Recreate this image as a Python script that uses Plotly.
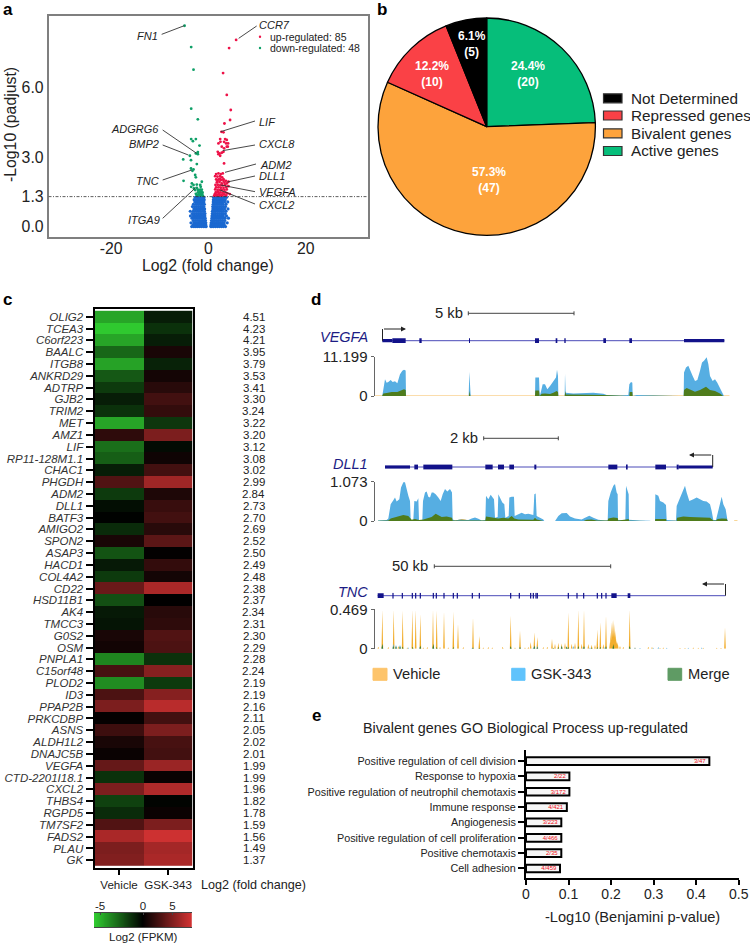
import numpy as np
import plotly.graph_objects as go

W, H = 750, 944
FONT = "Liberation Sans"

def fx(p): return p / W
def fy(p): return 1 - p / H
def dom_x(a, b): return [fx(a), fx(b)]
def dom_y(top, bottom): return [fy(bottom), fy(top)]

# ---------- panel a: volcano ----------
up_points = [(5.68,8.05),(4.24,7.7),(3.0,6.62),(3.76,5.68),(4.58,5.03),(4.44,4.6),(3.28,4.45),(2.67,4.09),(3.08,4.07),
 (2.4,3.78),(2.46,3.66),(2.05,3.59),(3.42,3.78),(3.76,3.74),(3.2,3.66),(3.62,3.59),(4.03,3.59),(3.76,3.45),(2.73,3.45),
 (3.2,3.38),(3.97,3.45),(1.91,3.23),(2.26,3.16),(2.73,3.19),(3.08,3.23),(2.4,3.06),(2.05,3.13),(3.2,2.73),
 (1.57,2.27),(2.05,2.3),(2.53,2.27),(2.94,2.3),(1.37,2.18),(1.85,2.16),(2.39,2.18),(2.8,2.13),(1.57,2.04),(2.05,2.04),
 (2.53,2.01),(3.08,2.05),(3.56,1.98),(4.1,1.94),(1.71,1.91),(2.26,1.93),(2.73,1.87),(3.28,1.9),(3.76,1.87),(1.44,1.8),
 (1.91,1.81),(2.39,1.78),(2.87,1.78),(3.42,1.8),(1.57,1.7),(2.05,1.7),(2.53,1.68),(3.08,1.67),(3.62,1.7),(4.1,1.75),
 (1.37,1.61),(1.85,1.59),(2.26,1.58),(2.73,1.58),(3.28,1.58),(3.76,1.61),(1.5,1.49),(1.98,1.49),(2.46,1.48),(2.94,1.47),
 (3.49,1.48),(1.3,1.41),(1.71,1.39),(2.19,1.41),(2.67,1.38),(3.21,1.39),(3.9,1.44),(4.38,1.41),(1.44,1.35),(1.85,1.34),
 (2.32,1.34),(2.8,1.34),(3.62,1.35),(1.16,1.34),(3.08,1.98),(1.85,1.98),(2.39,2.07)]
down_points = [(-4.92,8.66),(-3.56,7.74),(-3.08,6.77),(-3.56,5.09),(-2.19,4.63),(-3.56,3.78),(-2.6,3.78),(-3.2,3.69),
 (-1.85,3.5),(-2.19,3.22),(-2.19,3.13),(-2.6,3.16),(-3.83,3.06),(-5.2,2.9),(-3.6,2.87),(-2.4,2.7),(-3.6,2.51),(-3.08,2.47),
 (-3.3,2.41),(-2.74,2.23),(-2.6,2.13),(-5.13,1.98),(-3.42,1.87),(-3.08,1.8),(-2.4,1.82),(-1.7,1.8),(-1.37,1.94),(-3.56,1.72),
 (-2.4,1.68),(-2.74,1.58),(-2.05,1.58),(-1.7,1.6),(-1.37,1.6),(-2.19,1.48),(-1.85,1.5),(-1.5,1.5),(-1.23,1.48),(-2,1.41),
 (-1.64,1.41),(-1.3,1.42),(-2.4,1.36),(-1.85,1.35),(-1.5,1.36),(-2.19,1.6),(-1.6,1.72),(-3.0,1.65),(-2.6,1.42),(-1.15,1.34)]
blue_rows = [
 (1.27,[-2.7,-2.3,-1.95,-1.6,-1.25,-0.95,1.05,1.4,1.75,2.1,2.45,2.8,3.2,3.7]),
 (1.17,[-2.95,-2.5,-2.15,-1.8,-1.42,-1.05,-0.88,1.0,1.3,1.65,2.0,2.35,2.7,3.05,3.45]),
 (1.07,[-2.8,-2.4,-2.05,-1.7,-1.3,-0.95,0.98,1.35,1.72,2.1,2.5,2.85,3.3,3.95]),
 (0.97,[-3.1,-2.6,-2.2,-1.85,-1.5,-1.15,-0.85,0.95,1.25,1.6,1.95,2.3,2.65,3.0,3.6]),
 (0.87,[-3.3,-2.85,-2.45,-2.05,-1.65,-1.3,-0.95,0.88,1.2,1.55,1.9,2.3,2.7,3.1,3.5]),
 (0.77,[-3.0,-2.6,-2.2,-1.8,-1.45,-1.1,-0.8,0.9,1.25,1.65,2.05,2.45,2.85,3.3,4.0]),
 (0.67,[-3.75,-3.15,-2.75,-2.35,-1.95,-1.6,-1.2,-0.85,0.8,1.15,1.5,1.9,2.3,2.7,3.1,3.6]),
 (0.57,[-3.35,-2.95,-2.5,-2.1,-1.7,-1.35,-0.95,-0.72,0.78,1.1,1.45,1.85,2.25,2.65,3.0,3.45]),
 (0.47,[-3.7,-3.1,-2.7,-2.3,-1.9,-1.5,-1.1,-0.75,0.72,1.05,1.4,1.8,2.2,2.6,3.05,3.7]),
 (0.37,[-3.4,-3.0,-2.55,-2.15,-1.75,-1.35,-1.0,-0.68,0.7,1.0,1.35,1.75,2.15,2.5,2.95,3.4,4.1]),
 (0.27,[-3.15,-2.75,-2.35,-1.95,-1.55,-1.2,-0.85,-0.62,0.62,0.95,1.3,1.7,2.1,2.5,2.9,3.35]),
 (0.17,[-3.6,-3.0,-2.6,-2.2,-1.8,-1.4,-1.0,-0.7,-0.55,0.55,0.85,1.2,1.6,2.0,2.4,2.8,3.2,3.85]),
 (0.08,[-3.2,-2.8,-2.4,-2.0,-1.6,-1.2,-0.85,-0.55,0.5,0.8,1.15,1.55,1.95,2.35,2.75,3.25]),
 (0.01,[-3.45,-3.0,-2.6,-2.2,-1.8,-1.4,-1.0,-0.7,-0.48,0.48,0.7,1.05,1.45,1.85,2.25,2.65,3.05,3.5]),
 (0.72,[-2.0,-1.0,1.5,2.2]),(0.42,[-2.1,-1.3,1.2,2.0]),(0.22,[-1.7,-0.95,1.1,1.9]),
]
pv_line = 1.3

# ---------- panel b: pie ----------
pie_labels = ["Active genes", "Bivalent genes", "Repressed genes", "Not Determined"]
pie_counts = [20, 47, 10, 5]
pie_pct = ["24.4%", "57.3%", "12.2%", "6.1%"]
pie_colors = ["#06BE7A", "#FDA33C", "#FA4146", "#000000"]

# ---------- panel c: heatmap ----------
genes = ["OLIG2","TCEA3","C6orf223","BAALC","ITGB8","ANKRD29","ADTRP","GJB2","TRIM2","MET","AMZ1","LIF","RP11-128M1.1",
 "CHAC1","PHGDH","ADM2","DLL1","BATF3","AMIGO2","SPON2","ASAP3","HACD1","COL4A2","CD22","HSD11B1","AK4","TMCC3","G0S2",
 "OSM","PNPLA1","C15orf48","PLOD2","ID3","PPAP2B","PRKCDBP","ASNS","ALDH1L2","DNAJC5B","VEGFA","CTD-2201I18.1","CXCL2",
 "THBS4","RGPD5","TM7SF2","FADS2","PLAU","GK"]
vehicle_fpkm = [-4.6,-5.6,-4.6,-2.85,-4.5,-2.45,-1.6,-0.8,-1.35,-4.6,1.8,-3.1,-2.6,-0.8,3.2,-1.6,-0.4,-0.05,-1.2,1.0,-2.3,
 -0.7,-1.6,4.2,-2.2,-0.7,-0.55,1.0,0.7,-3.7,2.8,-3.9,3.0,4.9,0.2,2.4,1.0,0.4,4.0,-1.35,4.9,-1.8,-1.2,3.2,6.7,4.9,5.1]
gsk_fpkm = [-0.8,-1.35,-0.8,1.0,-0.95,0.8,1.6,2.6,2.0,-1.5,4.9,-0.3,0.6,2.6,6.3,1.2,2.2,2.6,1.6,3.6,0.1,2.0,0.8,6.7,0.05,
 1.6,1.8,3.2,3.0,-1.35,5.3,-1.6,5.3,7.3,2.6,4.9,2.8,2.6,6.1,0.4,6.9,-0.1,0.4,4.9,8.1,6.5,6.7]
fold_change = ["4.51","4.23","4.21","3.95","3.79","3.53","3.41","3.30","3.24","3.22","3.20","3.12","3.08","3.02","2.99",
 "2.84","2.73","2.70","2.69","2.52","2.50","2.49","2.48","2.38","2.37","2.34","2.31","2.30","2.29","2.28","2.24","2.19",
 "2.19","2.16","2.11","2.05","2.02","2.01","1.99","1.99","1.96","1.82","1.78","1.59","1.56","1.49","1.37"]
conditions = ["Vehicle", "GSK-343"]
ZMIN, ZMAX = -5.7, 8.3
heat_scale = [[0, "rgb(48,205,48)"], [-ZMIN / (ZMAX - ZMIN), "rgb(0,0,0)"], [1, "rgb(210,50,50)"]]

# ---------- panel d: tracks (x = track position, h = signal height as read, full scale = h_full) ----------
vegfa_gsk = [(187,2),(190,25),(195,50),(200,40),(205,42),(212,48),(218,42),(225,44),(232,38),(240,65),(247,75),(252,78),(257,76),(258,0),
 (446,0),(448,72),(450,30),(452,0),(645,0),(646,55),(657,55),(659,0),(662,10),(668,35),(675,35),(682,20),(690,30),(700,45),(708,55),(711,78),(714,60),(715,0),
 (734,0),(735,68),(737,10),(760,8),(800,9),(820,10),(850,7),(860,3),(900,2),(925,3),(928,35),(933,42),(937,40),(938,0),(950,3),(1000,2),(1050,3),(1085,1),(1091,0),
 (1092,70),(1098,85),(1105,90),(1110,80),(1118,60),(1125,45),(1132,48),(1140,75),(1146,100),(1152,105),(1160,115),(1165,95),(1170,60),(1178,45),(1185,50),(1192,40),(1200,25),(1208,10),(1212,0)]
vegfa_merge = [(187,2),(190,8),(200,9),(215,12),(232,12),(245,18),(252,20),(257,18),(258,0),(447,0),(449,15),(451,0),(645,0),(646,17),(657,17),(659,0),
 (665,7),(675,8),(690,6),(700,10),(710,15),(714,12),(715,0),(734,0),(736,15),(738,5),(760,4),(800,4),(850,3),(900,1),(928,0),(929,12),(937,12),(938,0),(1000,1),(1091,0),
 (1092,18),(1100,24),(1110,20),(1125,13),(1140,18),(1150,24),(1158,28),(1170,18),(1185,15),(1200,8),(1210,0)]
vegfa_vehicle = [(165,0),(166,1.5),(1228,1.5),(1229,0)]
dll1_gsk = [(174,2),(190,2),(200,3),(205,8),(212,50),(220,62),(225,70),(230,58),(238,65),(243,100),(250,115),(255,115),(260,90),(265,75),(270,60),(272,3),(280,3),
 (283,60),(290,58),(295,68),(297,3),(307,3),(309,60),(315,85),(320,88),(325,72),(330,70),(335,85),(340,85),(347,80),(355,70),(362,60),(368,80),(375,95),(382,88),(390,95),(396,85),(398,5),
 (406,2),(420,5),(430,4),(445,3),(455,8),(465,11),(475,7),(485,2),(496,3),(498,75),(505,65),(512,78),(518,70),(522,65),(525,10),(533,12),(535,80),(540,70),(547,55),(553,50),(556,10),
 (566,15),(568,70),(575,72),(582,72),(584,15),(595,20),(605,25),(615,20),(625,22),(640,18),(643,80),(647,82),(650,15),(660,10),(670,5),(673,0),
 (705,0),(715,15),(725,23),(740,24),(750,14),(765,8),(785,5),(795,10),(808,16),(820,10),(835,4),(855,2),(863,2),(865,60),(872,85),(880,105),(885,110),(890,85),(893,80),(894,3),
 (916,3),(918,105),(922,90),(926,80),(927,4),(940,4),(960,2),(990,1),(992,0),(1005,0),(1006,80),(1015,75),(1020,60),(1030,55),(1038,48),(1040,3),(1068,2),
 (1070,45),(1080,70),(1088,90),(1095,105),(1100,85),(1108,60),(1120,65),(1130,70),(1140,65),(1150,60),(1160,58),(1170,50),(1175,30),(1180,3),(1188,3),(1195,30),(1205,72),(1210,50),(1217,35),(1222,5),(1224,0)]
dll1_merge = [(174,1),(205,2),(212,8),(225,12),(238,15),(250,18),(265,15),(270,8),(275,4),(285,6),(297,3),(310,5),(325,8),(335,12),(347,22),(355,18),(365,12),(380,14),(396,10),(398,2),
 (450,1),(496,2),(498,14),(510,12),(522,9),(535,8),(550,10),(565,8),(575,15),(583,8),(595,5),(620,4),(640,4),(645,10),(650,5),(672,0),(790,0),(800,4),(815,5),(830,2),(863,2),(865,8),
 (880,11),(893,9),(895,2),(918,5),(926,6),(927,1),(1005,0),(1006,6),(1038,6),(1040,0),(1070,0),(1071,10),(1090,14),(1110,12),(1140,11),(1170,10),(1180,2),(1188,2),(1193,6),(1205,8),(1220,7),(1223,0)]
dll1_vehicle = [(400,0),(405,1),(415,4),(425,6),(435,5),(445,1),(450,0),(1040,0),(1041,2),(1067,2),(1068,0),(1242,0),(1243,1.5),(1252,1.5),(1253,0)]

tnc_vehicle_x = [187,221,248,277,287,301,339,350,372,400,414,459,478,572,600,632,643,652,696,745,775,792,832,841,858,872,875,878,881,884,887,890,929,1215,
 175,205,235,262,310,322,360,385,430,490,505,517,548,585,615,625,670,682,705,715,725,735,755,765,785,805,815,825,850,870,893,900,910,945,985,996,1020,1030,1080,1095,1120,1135,1150,1190,1203]
tnc_vehicle_h = [118,118,115,118,118,105,118,115,112,112,75,95,38,100,55,20,50,35,30,110,118,118,58,80,100,50,80,85,88,75,55,25,118,65,
 6,5,8,4,4,5,5,4,5,4,5,4,6,4,4,5,5,6,15,18,16,18,15,18,15,14,12,12,14,20,20,8,6,4,6,5,3,4,3,3,4,3,3,3,3]
tnc_gsk_x = [187,220,228,240,265,300,340,457,572,600,640,643,652,725,740,760,790,810,855,880,930,945,960,1000,1015,1040,1105,1145]
tnc_gsk_h = [12,15,12,12,4,6,10,4,6,5,3,10,8,8,8,8,6,4,5,8,4,4,3,3,5,3,3,4]
tnc_merge_x = [187,220,228,240,248,278,301,340,350,400,459,478,572,600,643,652,700,715,725,740,745,775,792,815,832,841,858,880,929]
tnc_merge_h = [15,8,8,8,7,6,10,15,5,5,4,3,8,5,9,5,3,5,8,6,5,8,8,4,5,6,8,14,8]

vegfa_thick = [(217,257),(298,305),(447,450),(645,657),(707,712),(733,737),(850,858),(928,936)]
vegfa_mid = [(187,217),(1092,1213)]
vegfa_span = (187,1213)
dll1_thick = [(283,294),(310,397),(496,518),(534,552),(568,582),(643,649),(865,892),(918,923),(1006,1038),(1070,1076)]
dll1_mid = [(195,270),(1076,1178)]
dll1_span = (195,1178)
tnc_thick = [(173,191),(874,890),(923,931)]
tnc_thin = [219,247,277,287,301,340,349,372,400,412,457,478,572,598,632,640,648,652,745,771,791,832,845,858]
tnc_span = (173,1216)

# ---------- panel e: bars ----------
go_terms = ["Positive regulation of cell division","Response to hypoxia","Positive regulation of neutrophil chemotaxis","Immune response",
 "Angiogenesis","Positive regulation of cell proliferation","Positive chemotaxis","Cell adhesion"]
go_values = [0.431,0.102,0.102,0.096,0.083,0.083,0.083,0.08]
go_counts = ["3/47","2/22","3/172","4/421","3/223","4/466","2/35","4/459"]

fig = go.Figure()
ann, shp = [], []

def text(x, y, s, size, color="#222222", anchor="center", bold=False, italic=False, angle=0):
    if bold: s = "<b>%s</b>" % s
    if italic: s = "<i>%s</i>" % s
    ann.append(dict(x=fx(x), y=fy(y), xref="paper", yref="paper", text=s, showarrow=False, xanchor=anchor, yanchor="middle",
                    font=dict(size=size, color=color, family=FONT), textangle=angle))

def seg(x0, y0, x1, y1, color="#222222", width=1.0):
    shp.append(dict(type="line", xref="paper", yref="paper", x0=fx(x0), y0=fy(y0), x1=fx(x1), y1=fy(y1), line=dict(color=color, width=width)))

def rect(x0, y0, x1, y1, fill, line=None, lw=1.0):
    shp.append(dict(type="rect", xref="paper", yref="paper", x0=fx(x0), y0=fy(y0), x1=fx(x1), y1=fy(y1), fillcolor=fill,
                    line=dict(color=line or fill, width=lw)))

# a traces
bx = [v for y, xs in blue_rows for v in xs]
by = [y for y, xs in blue_rows for v in xs]
fig.add_trace(go.Scatter(x=bx, y=by, mode="markers", marker=dict(color="#1A68D0", size=3.2), name="not significant", showlegend=False, xaxis="x", yaxis="y"))
fig.add_trace(go.Scatter(x=[p[0] for p in up_points], y=[p[1] for p in up_points], mode="markers", marker=dict(color="#EE1248", size=2.8), showlegend=False, name="up-regulated", xaxis="x", yaxis="y"))
fig.add_trace(go.Scatter(x=[p[0] for p in down_points], y=[p[1] for p in down_points], mode="markers", marker=dict(color="#0FA068", size=2.8), showlegend=False, name="down-regulated", xaxis="x", yaxis="y"))
shp.append(dict(type="line", xref="x", yref="y", x0=-32.9, x1=32.8, y0=pv_line, y1=pv_line, line=dict(color="#333333", width=0.8, dash="3px,1.5px,1px,1.5px")))
for (x, y, c) in [(260, 36.7, "#EE1248"), (260, 48, "#0FA068")]:
    shp.append(dict(type="circle", xref="paper", yref="paper", x0=fx(x-1.2), x1=fx(x+1.2), y0=fy(y+1.2), y1=fy(y-1.2), fillcolor=c, line=dict(width=0)))
text(267.5, 36.7, "up-regulated: %d" % len(up_points), 10.5, anchor="left")
text(267.5, 48, "down-regulated: %d" % len(down_points), 10.5, anchor="left")
text(208, 265.5, "Log2 (fold change)", 15.8)
text(10, 125, "-Log10 (padjust)", 15.8, angle=-90)
labels_l = [("FN1",160,35.7,(485,103),(553,77)),("ADGRG6",161,129,(488,390),(590,460)),("BMP2",161,144.3,(488,435),(565,465)),
            ("TNC",161,181,(488,540),(575,510)),("ITGA9",161.5,220,(488,655),(587,563))]
labels_r = [("CCR7",257.3,25,(716,115),(770,78)),("LIF",257.3,121.7,(662,395),(765,363)),("CXCL8",257.3,144.3,(668,452),(765,435)),
            ("ADM2",258.3,165,(675,517),(768,492)),("DLL1",257.3,176,(682,546),(765,528)),("VEGFA",257.3,191.7,(662,555),(765,575)),("CXCL2",257.3,204.7,(660,570),(765,612))]
for name, x, y, a, b in labels_l:
    text(x, y, name, 11, anchor="right", italic=True)
    seg(a[0]/3, a[1]/3, b[0]/3, b[1]/3, "#333333", 0.9)
for name, x, y, a, b in labels_r:
    text(x, y, name, 11, anchor="left", italic=True)
    seg(a[0]/3, a[1]/3, b[0]/3, b[1]/3, "#333333", 0.9)

# b
fig.add_trace(go.Pie(labels=pie_labels, values=pie_counts, sort=False, direction="clockwise", rotation=0, textinfo="none", showlegend=False,
                     marker=dict(colors=pie_colors, line=dict(color="#000000", width=1.3)), domain=dict(x=dom_x(378, 595.4), y=dom_y(18, 235.4))))
for lab, p, c, x, y in zip(pie_labels, pie_pct, pie_counts, [527.7, 488.5, 431.7, 472], [74, 180, 74, 44]):
    text(x, y, "%s<br>(%d)" % (p, c), 12, color="#FFFFFF", bold=True)
for i, k in enumerate([3, 2, 1, 0]):
    yy = [98.3, 115.5, 133.3, 151][i]
    rect(603.5, yy-4.5, 622, yy+4.5, pie_colors[k], "#333333", 1.2)
    text(628.5, yy-0.3, pie_labels[k], 15.3, anchor="left")

# c
fig.add_trace(go.Heatmap(z=[[a, b] for a, b in zip(vehicle_fpkm, gsk_fpkm)], x=conditions, y=genes, zmin=ZMIN, zmax=ZMAX, colorscale=heat_scale, showscale=False, xaxis="x2", yaxis="y2"))
for g, f in zip(genes, fold_change):
    ann.append(dict(x=fx(253.5), y=g, xref="paper", yref="y2", text=f, showarrow=False, font=dict(size=11.5, color="#222222", family=FONT)))
text(253, 885.3, "Log2 (fold change)", 12.6)
text(143, 937, "Log2 (FPKM)", 11.5)
# colour ramp: position -1..1, black at centre, values stretched differently each side
ramp_pos = np.linspace(-1, 1, 201)
ramp_val = np.where(ramp_pos < 0, ramp_pos * -ZMIN, ramp_pos * ZMAX)
fig.add_trace(go.Heatmap(z=[ramp_val.tolist()], x=ramp_pos.tolist(), y=[0], zmin=ZMIN, zmax=ZMAX, colorscale=heat_scale, showscale=False, xaxis="x3", yaxis="y3"))

# d
ORANGE, BLUE, GREEN = "#F7BC5A", "#56AEE2", "#4F7C1C"
def area(pts, color, xa, ya, full, hfull, name):
    fig.add_trace(go.Scatter(x=[p[0] for p in pts], y=[p[1] / hfull * full for p in pts], mode="lines", fill="tozeroy", fillcolor=color,
                             line=dict(width=0, color=color), showlegend=False, name=name, xaxis=xa, yaxis=ya))
def spikes(xs, hs, color, xa, ya, full, hfull, name, w=2.5):
    xx, yy = [], []
    for x, h in sorted(zip(xs, hs)):
        xx += [x - w, x, x + w, None]
        yy += [0, h / hfull * full, 0, None]
    fig.add_trace(go.Scatter(x=xx, y=yy, mode="lines", fill="toself", fillcolor=color, line=dict(width=0, color=color), showlegend=False, name=name, xaxis=xa, yaxis=ya))
def gene(span, thick, mid, thin, xa, ya):
    fig.add_trace(go.Scatter(x=list(span), y=[0, 0], mode="lines", line=dict(color="#4A4AB8", width=1), showlegend=False, xaxis=xa, yaxis=ya, hoverinfo="skip"))
    for blocks, lw in [(mid, 3.2), (thick, 4.8)]:
        xx, yy = [], []
        for a, b in blocks:
            xx += [a, b, None]; yy += [0, 0, None]
        if xx:
            fig.add_trace(go.Scatter(x=xx, y=yy, mode="lines", line=dict(color="#12128A", width=lw), showlegend=False, xaxis=xa, yaxis=ya, hoverinfo="skip"))
    if thin:
        xx, yy = [], []
        for a in thin:
            xx += [a, a, None]; yy += [-1, 1, None]
        fig.add_trace(go.Scatter(x=xx, y=yy, mode="lines", line=dict(color="#12128A", width=1.2), showlegend=False, xaxis=xa, yaxis=ya, hoverinfo="skip"))

area(vegfa_vehicle, ORANGE, "x5", "y5", 11.199, 117, "Vehicle")
area(vegfa_gsk, BLUE, "x5", "y5", 11.199, 117, "GSK-343")
area(vegfa_merge, GREEN, "x5", "y5", 11.199, 117, "Merge")
gene(vegfa_span, vegfa_thick, vegfa_mid, [], "x5", "y6")
area(dll1_vehicle, "#F2AE2E", "x6", "y7", 1.073, 117, "Vehicle")
area(dll1_gsk, BLUE, "x6", "y7", 1.073, 117, "GSK-343")
area(dll1_merge, GREEN, "x6", "y7", 1.073, 117, "Merge")
gene(dll1_span, dll1_thick, dll1_mid, [], "x6", "y8")
spikes(tnc_vehicle_x, tnc_vehicle_h, "#F2AE2E", "x7", "y9", 0.469, 119, "Vehicle")
spikes(tnc_gsk_x, tnc_gsk_h, BLUE, "x7", "y9", 0.469, 119, "GSK-343")
spikes(tnc_merge_x, tnc_merge_h, "#3F7A20", "x7", "y9", 0.469, 119, "Merge")
gene(tnc_span, tnc_thick, [], tnc_thin, "x7", "y10")

NAVY = "#1C1C84"
for name, y in [("VEGFA", 336.7), ("DLL1", 463.7), ("TNC", 591.7)]:
    text(369.5, y, name, 14.5, color=NAVY, anchor="right", italic=True)
for lab, a, b, y, tx in [("5 kb", 468.3, 574, 313.3, 465), ("2 kb", 483.7, 558.3, 438.3, 479.5), ("50 kb", 434.3, 610.7, 566.3, 430)]:
    seg(a, y, b, y, "#444444", 1)
    seg(a, y-2, a, y+2, "#444444", 1)
    seg(b, y-2, b, y+2, "#444444", 1)
    text(tx, y, lab, 14.8, anchor="right")
def tss(xc, y0, y1, xh):
    seg(xc, y0, xc, y1, "#222222", 1)
    ann.append(dict(x=fx(xh), y=fy(y1), ax=xc - xh, ay=0, xref="paper", yref="paper", axref="pixel", ayref="pixel", text="", showarrow=True,
                    arrowhead=2, arrowsize=1, arrowwidth=1, arrowcolor="#222222"))
tss(382.5, 340.7, 329, 406)
tss(712.7, 467, 455, 689)
tss(725.5, 595.7, 584, 702)
for lab, c, a, b in [("Vehicle", "#FDC46B", 373, 387), ("GSK-343", "#60C3FC", 511.7, 525), ("Merge", "#5F9B64", 668, 681.7)]:
    rect(a, 668.3, b, 680.3, c)
    text(b + 4.2, 674.3, lab, 14.7, anchor="left")

# e
fig.add_trace(go.Bar(y=go_terms, x=go_values, orientation="h", text=go_counts, textposition="inside", insidetextanchor="end", textangle=0, constraintext="none",
                     textfont=dict(size=6, color="#F01020", family=FONT), marker=dict(color="#F6F6F6", line=dict(color="#000000", width=2)), width=0.5, showlegend=False, xaxis="x4", yaxis="y4"))
text(360.7, 728, "Bivalent genes GO Biological Process up-regulated", 14.3, anchor="left")
text(632, 917, "-Log10 (Benjamini p-value)", 14.6)

for s, x, y in [("a", 8, 9), ("b", 382, 9), ("c", 7, 299), ("d", 316, 299), ("e", 316, 715)]:
    text(x, y, s, 17, color="#000000", bold=True)

black = "#000000"
tf = lambda s, c="#222222": dict(size=s, color=c, family=FONT)
layout = dict(
    width=W, height=H, margin=dict(l=0, r=0, t=0, b=0, autoexpand=False), autosize=False, paper_bgcolor="white", plot_bgcolor="white", showlegend=False,
    annotations=ann, shapes=shp, font=dict(family=FONT),
    xaxis=dict(domain=dom_x(48.5, 368), range=[-32.9, 32.8], tickvals=[-20, 0, 20], ticktext=["-20", "0", "20"], showgrid=False, zeroline=False, showline=True, mirror=True,
               linecolor="#7F7F7F", linewidth=1.5, ticks="", tickfont=tf(15.8), anchor="y", ticklabelstandoff=-4),
    yaxis=dict(domain=dom_y(16, 237), range=[-0.44, 9.08], tickvals=[0, 1.3, 3, 6], ticktext=["0.0", "1.3", "3.0", "6.0"], showgrid=False, zeroline=False, showline=True, mirror=True,
               linecolor="#7F7F7F", linewidth=1.5, ticks="", tickfont=tf(15.8), anchor="x"),
    xaxis2=dict(domain=dom_x(94.5, 192.5), anchor="y2", showline=True, mirror=True, linecolor=black, linewidth=2, ticks="outside", ticklen=5, tickwidth=2, tickcolor=black,
                tickfont=tf(11.6), showgrid=False, zeroline=False),
    yaxis2=dict(domain=dom_y(308.7, 868.3), anchor="x2", autorange="reversed", tickmode="array", tickvals=genes, ticktext=["<i>%s</i>" % g for g in genes],
                showline=True, mirror=True, linecolor=black, linewidth=2, ticks="outside", ticklen=7, tickwidth=2, tickcolor=black, tickfont=tf(11.5, "#333333"),
                showgrid=False, zeroline=False),
    xaxis3=dict(domain=dom_x(94, 192), anchor="y3", side="top", range=[-1, 1], tickvals=[5 / ZMIN, 0, 5 / ZMAX], ticktext=["-5", "0", "5"], ticks="inside", ticklen=2,
                tickcolor="#444444", showline=True, mirror=True, linecolor="#444444", linewidth=1, tickfont=tf(11.5), showgrid=False, zeroline=False, ticklabelstandoff=-3),
    yaxis3=dict(domain=dom_y(913, 927), anchor="x3", visible=False, range=[-0.5, 0.5]),
    xaxis4=dict(domain=dom_x(526, 738.7), anchor="y4", range=[0, 0.5], tickvals=[0, .1, .2, .3, .4, .5], ticktext=["0", "0.1", "0.2", "0.3", "0.4", "0.5"], showline=True,
                linecolor=black, linewidth=2, ticks="outside", ticklen=5, tickwidth=2, tickcolor=black, tickfont=tf(14), showgrid=False, zeroline=False, ticklabelstandoff=-3),
    yaxis4=dict(domain=dom_y(750, 877.7), anchor="x4", range=[7.6, -0.72], showline=True, linecolor=black, linewidth=2, ticks="outside", ticklen=6, tickwidth=2, tickcolor=black,
                tickfont=tf(10.8, "#222222"), showgrid=False, zeroline=False),
)
for ax, ya in [("xaxis5", "y5"), ("xaxis6", "y7"), ("xaxis7", "y9")]:
    layout[ax] = dict(domain=dom_x(320, 750), range=[0, 1290], visible=False, anchor=ya)
for key, top, full, lab in [("yaxis5", 356.7, 11.199, "11.199"), ("yaxis7", 481.7, 1.073, "1.073"), ("yaxis9", 609.3, 0.469, "0.469")]:
    layout[key] = dict(domain=dom_y(top, top + 39.4), range=[0, full], anchor="free", position=fx(373.5), side="left", tickvals=[0, full], ticktext=["0", lab],
                       showline=True, linecolor="#666666", linewidth=1, ticks="outside", ticklen=3, tickcolor="#666666", tickfont=tf(15), showgrid=False, zeroline=False)
for key, xa, yc in [("yaxis6", "x5", 340.7), ("yaxis8", "x6", 467), ("yaxis10", "x7", 595.7)]:
    layout[key] = dict(domain=dom_y(yc - 3, yc + 3), range=[-1, 1], visible=False, anchor=xa)
fig.update_layout(**layout)
fig.write_html("out.html", post_script="document.body.style.margin='0';", config=dict(displayModeBar=False))
